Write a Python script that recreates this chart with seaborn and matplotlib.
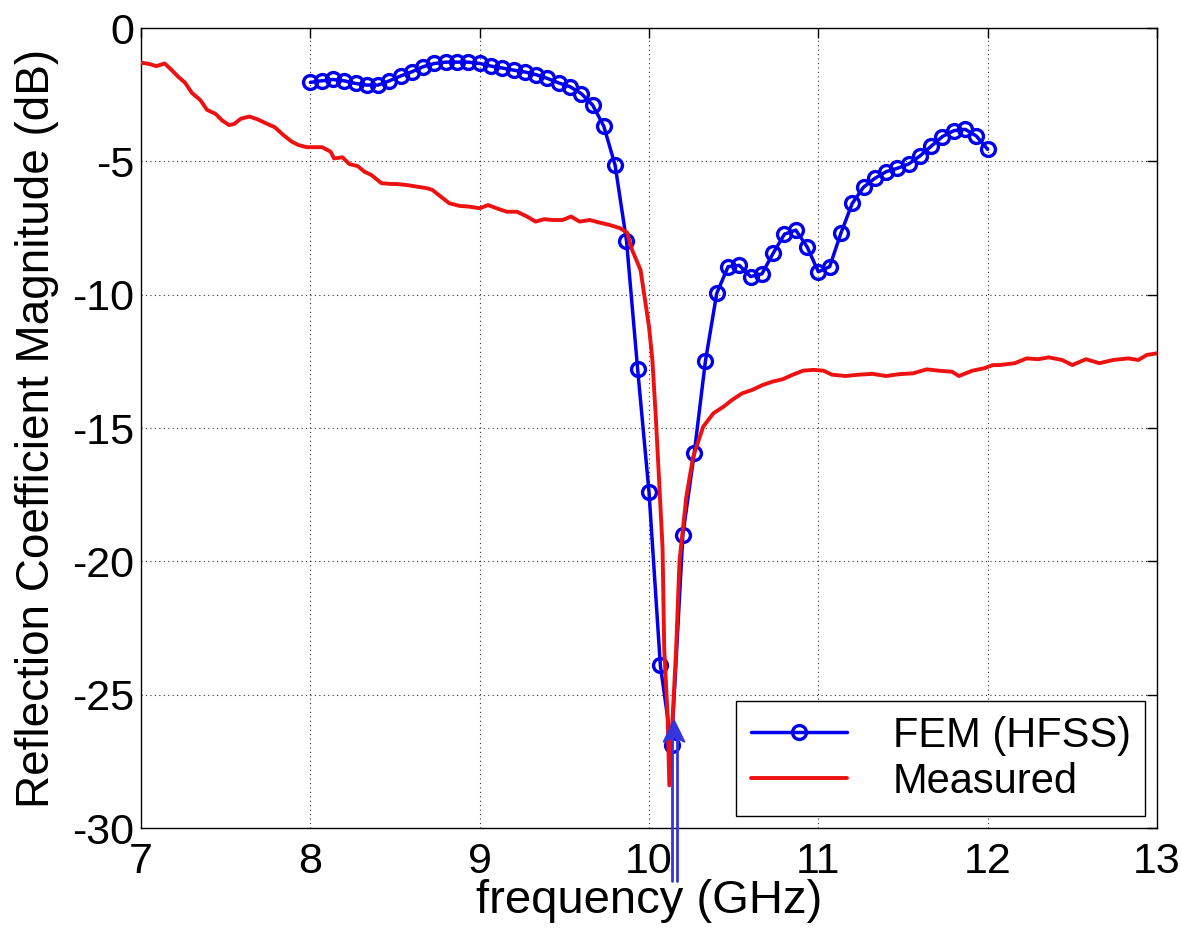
import matplotlib
matplotlib.use("Agg")
import matplotlib.pyplot as plt
from matplotlib.patches import Polygon
import seaborn as sns

# ---- FEM (HFSS) sweep: 8-12 GHz, 61 points ----
fem_freq = [8.000, 8.067, 8.133, 8.200, 8.267, 8.333, 8.400, 8.467, 8.533, 8.600,
            8.667, 8.733, 8.800, 8.867, 8.933, 9.000, 9.067, 9.133, 9.200, 9.267,
            9.333, 9.400, 9.467, 9.533, 9.600, 9.667, 9.733, 9.800, 9.867, 9.933,
            10.000, 10.067, 10.133, 10.200, 10.267, 10.333, 10.400, 10.467, 10.533, 10.600,
            10.667, 10.733, 10.800, 10.867, 10.933, 11.000, 11.067, 11.133, 11.200, 11.267,
            11.333, 11.400, 11.467, 11.533, 11.600, 11.667, 11.733, 11.800, 11.867, 11.933,
            12.000]
fem_db = [-2.04, -1.98, -1.93, -1.98, -2.08, -2.14, -2.14, -1.98, -1.80, -1.64,
          -1.45, -1.33, -1.28, -1.28, -1.28, -1.33, -1.43, -1.50, -1.58, -1.65,
          -1.75, -1.89, -2.06, -2.20, -2.46, -2.89, -3.68, -5.15, -7.97, -12.8,
          -17.4, -23.9, -26.9, -19.0, -15.95, -12.5, -9.95, -8.95, -8.90, -9.32,
          -9.22, -8.45, -7.73, -7.58, -8.20, -9.14, -8.95, -7.70, -6.58, -5.97,
          -5.64, -5.39, -5.26, -5.10, -4.80, -4.43, -4.07, -3.85, -3.80, -4.05,
          -4.55]

# ---- Measured reflection coefficient ----
meas_freq = [7.00, 7.05, 7.09, 7.14, 7.18, 7.22, 7.26, 7.30, 7.35, 7.39,
             7.44, 7.48, 7.52, 7.55, 7.59, 7.64, 7.69, 7.74, 7.79, 7.84,
             7.89, 7.93, 7.98, 8.03, 8.07, 8.12, 8.14, 8.19, 8.23, 8.28,
             8.32, 8.36, 8.42, 8.48, 8.51, 8.57, 8.63, 8.69, 8.72, 8.77,
             8.82, 8.88, 8.94, 9.00, 9.05, 9.10, 9.16, 9.22, 9.28, 9.33,
             9.38, 9.43, 9.49, 9.54, 9.59, 9.65, 9.71, 9.77, 9.83, 9.87,
             9.90, 9.95, 10.00, 10.02, 10.04, 10.06, 10.08, 10.09, 10.11, 10.12,
             10.14, 10.16, 10.18, 10.22, 10.26, 10.32, 10.38, 10.44, 10.49, 10.55,
             10.61, 10.67, 10.73, 10.79, 10.85, 10.91, 10.97, 11.03, 11.08, 11.16,
             11.24, 11.32, 11.40, 11.48, 11.56, 11.64, 11.71, 11.79, 11.83, 11.91,
             11.98, 12.03, 12.07, 12.16, 12.23, 12.30, 12.36, 12.44, 12.50, 12.58,
             12.66, 12.74, 12.83, 12.89, 12.94, 13.00]
meas_db = [-1.30, -1.35, -1.43, -1.33, -1.57, -1.83, -2.05, -2.43, -2.70, -3.07,
           -3.22, -3.47, -3.64, -3.60, -3.40, -3.32, -3.43, -3.58, -3.72, -4.01,
           -4.26, -4.39, -4.47, -4.47, -4.47, -4.64, -4.89, -4.85, -5.10, -5.18,
           -5.39, -5.51, -5.82, -5.85, -5.85, -5.89, -5.95, -6.01, -6.07, -6.32,
           -6.57, -6.67, -6.70, -6.76, -6.64, -6.76, -6.89, -6.89, -7.07, -7.26,
           -7.17, -7.20, -7.20, -7.07, -7.26, -7.20, -7.30, -7.39, -7.51, -7.67,
           -8.32, -9.07, -11.2, -12.45, -14.57, -17.0, -19.5, -23.3, -25.8, -28.4,
           -25.8, -23.3, -20.0, -17.6, -16.1, -14.95, -14.45, -14.2, -13.95, -13.7,
           -13.57, -13.39, -13.26, -13.17, -13.0, -12.85, -12.82, -12.85, -13.0, -13.05,
           -13.0, -12.97, -13.05, -12.98, -12.95, -12.8, -12.85, -12.89, -13.05, -12.85,
           -12.76, -12.64, -12.64, -12.57, -12.39, -12.42, -12.35, -12.45, -12.64, -12.42,
           -12.57, -12.45, -12.39, -12.45, -12.26, -12.20]

x_ticks = [7, 8, 9, 10, 11, 12, 13]
y_ticks = [-30, -25, -20, -15, -10, -5, 0]
x_tick_labels = ["7", "8", "9", "10", "11", "12", "13"]
y_tick_labels = ["-30", "-25", "-20", "-15", "-10", "-5", "0"]

# resonance marker arrow (points at the measured minimum)
arrow_freq = 10.148
arrow_tip_db = -25.95
arrow_base_db = -26.78
arrow_notch_db = -26.6
arrow_tail_db = -32.0

FEM_BLUE = "#0000ee"
MEAS_RED = "#ee1111"
ARROW_BLUE = "#3636e0"

sns.set_style("white")
plt.rcParams["font.family"] = ["Liberation Sans", "DejaVu Sans"]
plt.rcParams["axes.unicode_minus"] = False
plt.rcParams["text.color"] = "k"
plt.rcParams["axes.labelcolor"] = "k"

W, H = 1182, 930
fig = plt.figure(figsize=(W / 100, H / 100), dpi=100)
ax = fig.add_axes([141 / W, 1 - 828 / H, (1157 - 141) / W, 800 / H])

sns.lineplot(x=fem_freq, y=fem_db, ax=ax, color=FEM_BLUE, linewidth=2.5,
             marker="o", markersize=10, markerfacecolor="none",
             markeredgecolor=FEM_BLUE, markeredgewidth=2.4,
             label="FEM (HFSS)", zorder=3)
sns.lineplot(x=meas_freq, y=meas_db, ax=ax, color=MEAS_RED, linewidth=2.8,
             label="Measured", zorder=4)

ax.set_xlim(7, 13)
ax.set_ylim(-30, 0)
ax.set_xticks(x_ticks)
ax.set_xticklabels(x_tick_labels)
ax.set_yticks(y_ticks)
ax.set_yticklabels(y_tick_labels)
ax.tick_params(direction="in", length=7, width=1, top=True, right=True,
               labelsize=31, colors="k")
ax.tick_params(axis="x", pad=10)
ax.tick_params(axis="y", pad=5)
for s in ax.spines.values():
    s.set_visible(True)
    s.set_color("k")
    s.set_linewidth(1.0)
ax.grid(True, color="k", linestyle=(0, (1, 3)), linewidth=0.8, alpha=0.8)

ax.set_xlabel("frequency (GHz)", fontsize=34, labelpad=-2)
ax.set_ylabel("Reflection Coefficient Magnitude (dB)", fontsize=33, labelpad=9)

# double-shafted arrow below the dip
for dx in (-0.015, 0.015):
    ax.plot([arrow_freq + dx, arrow_freq + dx], [arrow_tail_db, arrow_notch_db],
            color=ARROW_BLUE, linewidth=2.0, clip_on=False, zorder=6)
head = Polygon([(arrow_freq, arrow_tip_db), (arrow_freq + 0.064, arrow_base_db),
                (arrow_freq, arrow_notch_db), (arrow_freq - 0.064, arrow_base_db)],
               closed=True, facecolor=ARROW_BLUE, edgecolor=ARROW_BLUE,
               linewidth=1, clip_on=False, zorder=6)
ax.add_patch(head)

leg = ax.legend(loc="lower right", fontsize=30, frameon=True, fancybox=False,
                edgecolor="k", framealpha=1, borderaxespad=0.28,
                handlelength=2.3, handletextpad=1.1, labelspacing=0.15,
                borderpad=0.35, numpoints=1)
leg.get_frame().set_linewidth(1.0)

fig.savefig("out.png", dpi=100, facecolor="white")
